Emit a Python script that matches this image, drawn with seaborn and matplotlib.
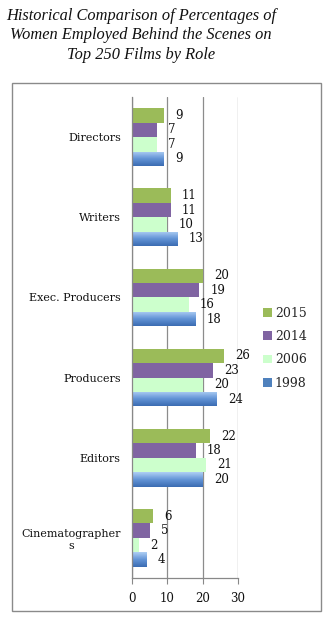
import numpy as np
import pandas as pd
import matplotlib
matplotlib.use("Agg")
import matplotlib.pyplot as plt
from matplotlib.colors import LinearSegmentedColormap
from matplotlib.patches import Rectangle
import seaborn as sns

# Percent of women employed behind the scenes, top 250 films
roles = ["Directors", "Writers", "Exec. Producers", "Producers", "Editors",
         "Cinematographer\ns"]
years = ["2015", "2014", "2006", "1998"]
pct_2015 = [9, 11, 20, 26, 22, 6]
pct_2014 = [7, 11, 19, 23, 18, 5]
pct_2006 = [7, 10, 16, 20, 21, 2]
pct_1998 = [9, 13, 18, 24, 20, 4]
x_ticks = [0, 10, 20, 30]

series = {"2015": pct_2015, "2014": pct_2014, "2006": pct_2006, "1998": pct_1998}
df = pd.DataFrame(
    [(r, y, v) for y in years for r, v in zip(roles, series[y])],
    columns=["role", "year", "pct"],
)

colors = {"2015": "#9BBB59", "2014": "#8064A2", "2006": "#CCFFCC", "1998": "#4F81BD"}

sns.set_theme(style="white")
plt.rcParams["font.family"] = ["DejaVu Serif"]

fig = plt.figure(figsize=(3.35, 6.31), dpi=100)
ax = fig.add_axes([132 / 335, 1 - 578 / 631, 106 / 335, 481 / 631])

sns.barplot(data=df, y="role", x="pct", hue="year", order=roles,
            hue_order=years, palette=colors, orient="h", width=0.72,
            saturation=1, ax=ax, legend=True, edgecolor="none", linewidth=0)

# Blue bars get a vertical light-to-dark gradient
grad = LinearSegmentedColormap.from_list("blue", ["#AFCFF4", "#6394D6", "#3B6CB2"])
gimg = np.linspace(0, 1, 64).reshape(-1, 1)
blue_container = ax.containers[3]
for patch in blue_container:
    x0, y0 = patch.get_x(), patch.get_y()
    w, h = patch.get_width(), patch.get_height()
    im = ax.imshow(gimg, cmap=grad, aspect="auto",
                   extent=(x0, x0 + w, y0 + h, y0), origin="upper",
                   zorder=patch.get_zorder() + 0.1, interpolation="bilinear")
    im.set_clip_path(patch)

# Value labels at bar ends
for cont in ax.containers:
    ax.bar_label(cont, padding=8, fontsize=8.5, color="#111111",
                 family="DejaVu Serif")

ax.set_xlim(0, 30)
ax.set_ylim(len(roles) - 0.5, -0.5)
ax.set_xticks(x_ticks)
ax.set_xticklabels([str(t) for t in x_ticks], fontsize=8.5, color="#111111")
ax.set_xlabel("")
ax.set_ylabel("")

# Category tick marks sit on the boundaries between groups
ax.set_yticks(np.arange(len(roles)))
ax.set_yticklabels(roles, fontsize=8, color="#111111")
for lab in ax.get_yticklabels():
    lab.set_multialignment("center")
ax.tick_params(axis="y", length=0, pad=8)
ax.set_yticks(np.arange(-0.5, len(roles)), minor=True)
ax.tick_params(axis="y", which="minor", length=4, width=0.8, color="#888888",
               direction="out")
ax.tick_params(axis="x", length=4, width=0.8, color="#888888", direction="out",
               bottom=True, pad=6)

ax.xaxis.grid(True, color="#8c8c8c", linewidth=0.9)
ax.set_axisbelow(True)
for side in ["top", "right"]:
    ax.spines[side].set_visible(False)
for side in ["left", "bottom"]:
    ax.spines[side].set_color("#888888")
    ax.spines[side].set_linewidth(0.9)

# Legend on the right
handles, labels = ax.get_legend_handles_labels()
ax.legend(handles, labels, loc="upper left", bbox_to_anchor=(263 / 335, 1 - 307 / 631),
          bbox_transform=fig.transFigure, frameon=False, fontsize=9,
          handlelength=0.7, handleheight=0.7, handletextpad=0.25,
          labelspacing=0.82, borderpad=0, borderaxespad=0)

# Outer chart frame
fig.patches.append(Rectangle((12 / 335, 1 - 611 / 631), 309 / 335, 528 / 631,
                             transform=fig.transFigure, fill=False,
                             edgecolor="#8a8a8a", linewidth=1.0))

fig.text(141 / 335, 1 - 8 / 631,
         "Historical Comparison of Percentages of\n"
         "Women Employed Behind the Scenes on\n"
         "Top 250 Films by Role",
         ha="center", va="top", fontsize=11.8, style="italic",
         family="Liberation Serif", color="#111111", linespacing=1.28)

fig.savefig("out.png", dpi=100)
